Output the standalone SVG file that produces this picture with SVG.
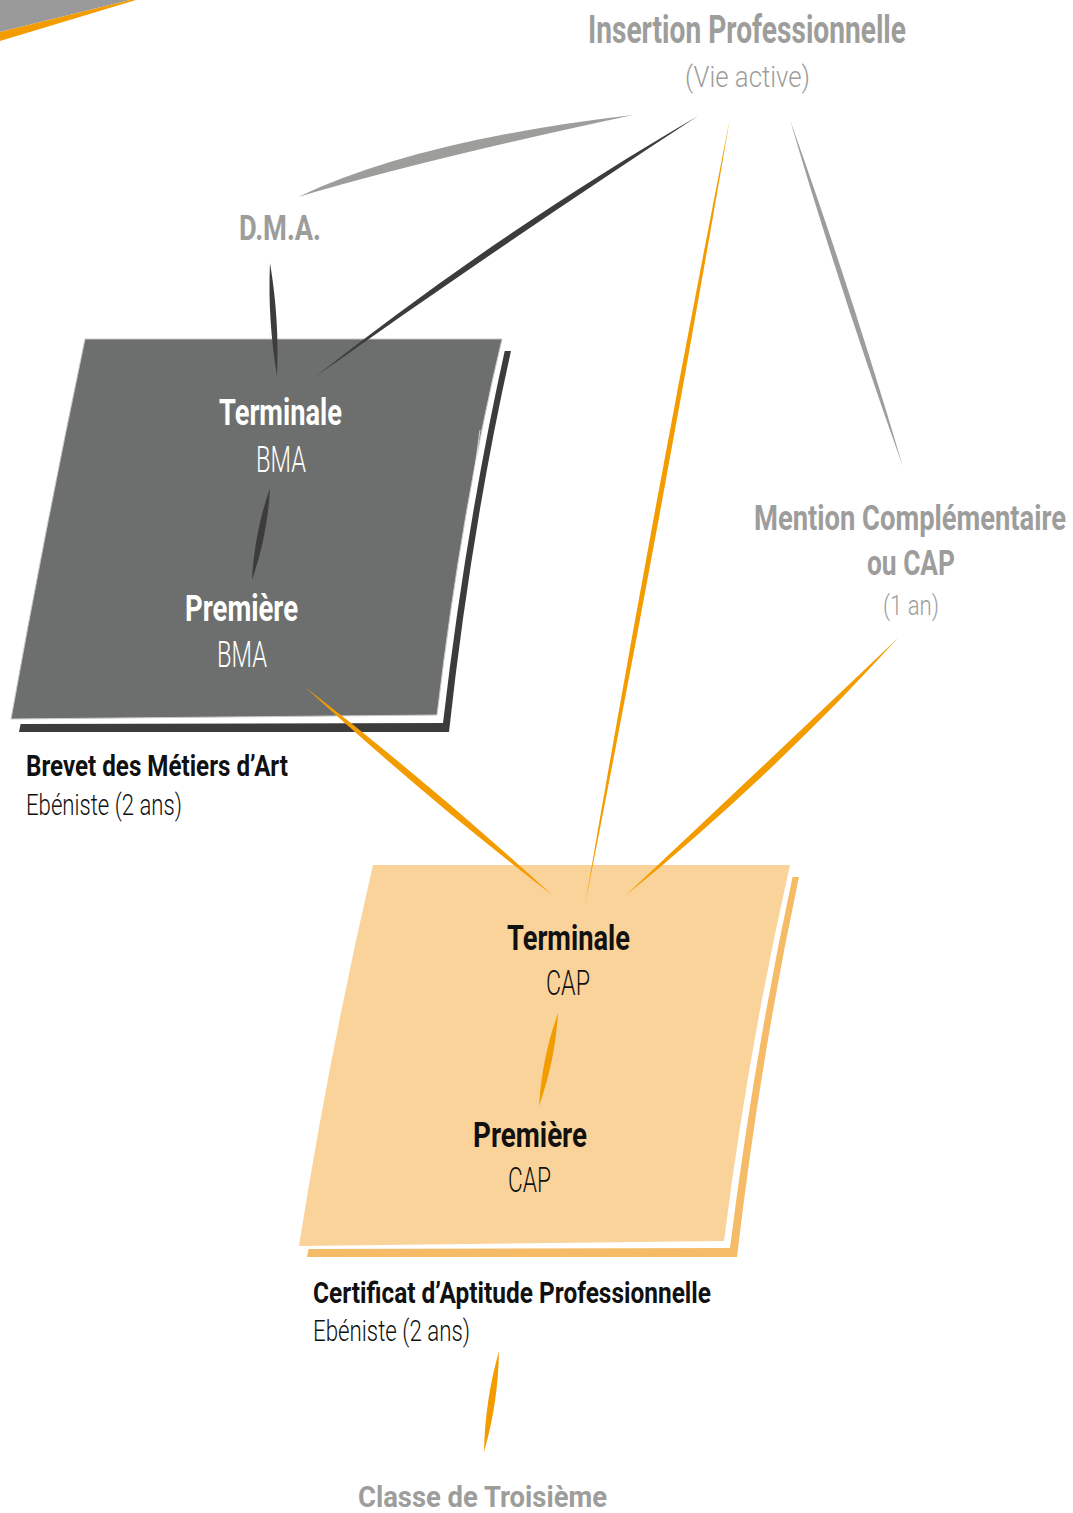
<svg xmlns="http://www.w3.org/2000/svg" width="1073" height="1513" viewBox="0 0 1073 1513">
<style>
  text { font-family: Roboto, "Liberation Sans Narrow", "Liberation Sans", sans-serif; }
  .b { font-weight: 700; }
  .l { font-weight: 300; }
  .gray { fill: #9d9d9c; }
  .white { fill: #ffffff; }
  .black { fill: #111111; }
  .s-dark { fill: #3c3c3b; }
  .s-gray { fill: #9d9d9c; }
  .s-or { fill: #f39c00; }
</style>
<rect width="1073" height="1513" fill="#ffffff"/>
<g id="corner">
  <polygon points="0,0 130,0 0,32" fill="#9a9a9a"/>
  <polygon points="0,32 130,0 136,0 0,41" fill="#f39c00"/>
</g>
<g id="box-bma">
  <path d="M95,351 L511,351 Q471,530 449,732 L19,732 Z" fill="#3c3c3b"/>
  <path d="M90,345 L506,345 Q466,525 443,723 L14,724 Z" fill="#ffffff"/>
  <path d="M85,339 L502,339 Q462,505 437,715 L11,719 Q44,535 85,339 Z" fill="#6d6f6e" stroke="#c8c8c8" stroke-width="1"/>
  <path d="M480,430 Q468,520 458,600" fill="none" stroke="#ffffff" stroke-width="1" opacity="0.7"/>
</g>
<g id="box-cap">
  <path d="M380,877 L799,877 Q760,1060 737,1257 L307,1257 Z" fill="#f5bb66"/>
  <path d="M376,870 L794,870 Q754,1055 730,1248 L302,1249 Z" fill="#ffffff"/>
  <path d="M373,865 L790,865 Q748,1050 724,1241 L299,1246 Q330,1050 373,865 Z" fill="#fad39a"/>
</g>
<g id="connectors">
  <path class="s-gray" d="M633,115 Q422.5,160 298,197 Q417.5,140 633,115 Z"/>
  <path class="s-dark" d="M698,116 C568.7,200.5 441.1,287.5 315,377 C436.6,280.9 564.2,193.9 698,116 Z"/>
  <path class="s-dark" d="M270,263 C276.3,300.7 278.7,338.3 277,376 C270.7,338.3 268.3,300.7 270,263 Z"/>
  <path class="s-dark" d="M270,488 C268.4,519.6 262.4,550.2 252,580 C253.6,548.4 259.6,517.8 270,488 Z"/>
  <path class="s-or" d="M305,687 C384.4,759.8 466.8,829.2 552,895 C472.6,822.3 390.2,752.9 305,687 Z"/>
  <path class="s-or" d="M730,118 C685.1,380.9 636.7,643.3 585,905 C629.9,642.1 678.3,379.7 730,118 Z"/>
  <path class="s-gray" d="M790,120 C831,234.6 868.6,350.2 903,467 C862,352.4 824.4,236.8 790,120 Z"/>
  <path class="s-or" d="M898,638 C813.5,730.9 722.5,816.9 625,896 C716.3,810.3 807.3,724.3 898,638 Z"/>
  <path class="s-or" d="M558,1013 C556.1,1044.9 549.7,1075.9 539,1106 C540.9,1074.1 547.3,1043.1 558,1013 Z"/>
  <path class="s-or" d="M499,1351 C498.5,1385.4 493.5,1419 484,1452 C484.6,1417.6 489.6,1384 499,1351 Z"/>
</g>
<g id="node-insertion">
  <text class="b gray" x="588" y="43" font-size="38" textLength="318" lengthAdjust="spacingAndGlyphs">Insertion Professionnelle</text>
  <text class="l gray" x="685" y="87" font-size="29" textLength="125" lengthAdjust="spacingAndGlyphs">(Vie active)</text>
</g>
<g id="node-dma">
  <text class="b gray" x="239" y="240" font-size="35" textLength="82" lengthAdjust="spacingAndGlyphs">D.M.A.</text>
</g>
<g id="node-terminale-bma">
  <text class="b white" x="219" y="425" font-size="37" textLength="123" lengthAdjust="spacingAndGlyphs">Terminale</text>
  <text class="l white" x="256" y="472" font-size="37" textLength="50" lengthAdjust="spacingAndGlyphs">BMA</text>
</g>
<g id="node-premiere-bma">
  <text class="b white" x="185" y="621" font-size="36" textLength="113" lengthAdjust="spacingAndGlyphs">Première</text>
  <text class="l white" x="217" y="667" font-size="36" textLength="50" lengthAdjust="spacingAndGlyphs">BMA</text>
</g>
<g id="node-bma-caption">
  <text class="b black" x="26" y="776" font-size="29" textLength="262" lengthAdjust="spacingAndGlyphs">Brevet des Métiers d’Art</text>
  <text class="l black" x="26" y="815" font-size="29" textLength="156" lengthAdjust="spacingAndGlyphs">Ebéniste (2 ans)</text>
</g>
<g id="node-mention">
  <text class="b gray" transform="matrix(0.75 0 0 1 754 530)" x="0" y="0" font-size="35" textLength="416" lengthAdjust="spacingAndGlyphs">Mention Complémentaire</text>
  <text class="b gray" x="867" y="575" font-size="35" textLength="88" lengthAdjust="spacingAndGlyphs">ou CAP</text>
  <text class="l gray" x="883" y="615" font-size="28" textLength="56" lengthAdjust="spacingAndGlyphs">(1 an)</text>
</g>
<g id="node-terminale-cap">
  <text class="b black" x="507" y="950" font-size="35" textLength="123" lengthAdjust="spacingAndGlyphs">Terminale</text>
  <text class="l black" x="546" y="995" font-size="35" textLength="44" lengthAdjust="spacingAndGlyphs">CAP</text>
</g>
<g id="node-premiere-cap">
  <text class="b black" x="473" y="1147" font-size="35" textLength="114" lengthAdjust="spacingAndGlyphs">Première</text>
  <text class="l black" x="508" y="1192" font-size="35" textLength="43" lengthAdjust="spacingAndGlyphs">CAP</text>
</g>
<g id="node-cap-caption">
  <text class="b black" x="313" y="1303" font-size="29" textLength="398" lengthAdjust="spacingAndGlyphs">Certificat d’Aptitude Professionnelle</text>
  <text class="l black" x="313" y="1341" font-size="29" textLength="157" lengthAdjust="spacingAndGlyphs">Ebéniste (2 ans)</text>
</g>
<g id="node-troisieme">
  <text class="b gray" x="358" y="1507" font-size="29" textLength="249" lengthAdjust="spacingAndGlyphs">Classe de Troisième</text>
</g>
</svg>
